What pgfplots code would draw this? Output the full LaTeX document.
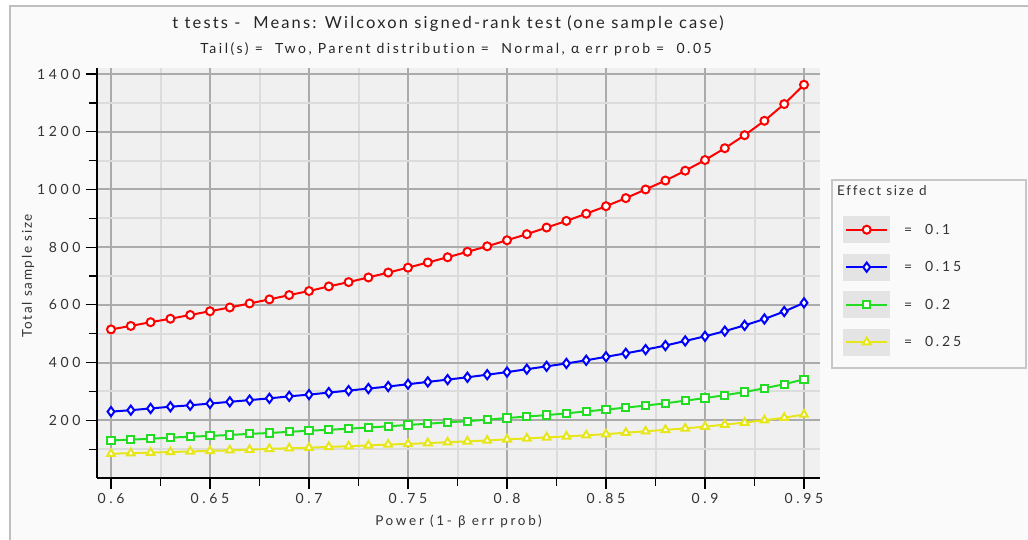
\documentclass[border=0pt]{standalone}
\usepackage{pgfplots}
\pgfplotsset{compat=1.18}
\usepackage{pgfplotstable}
\usepackage{fontspec}
\setmainfont{Lato}
\newfontfamily\lta[LetterSpace=13,Ligatures=NoCommon]{Lato}
\newfontfamily\ltb[LetterSpace=18,Ligatures=NoCommon]{Lato}
\newfontfamily\ltc[LetterSpace=20,Ligatures=NoCommon]{Lato}
\newfontfamily\ltd[LetterSpace=26,Ligatures=NoCommon]{Lato}
\newfontfamily\lte[LetterSpace=13,Ligatures=NoCommon]{Lato}
\definecolor{panelbg}{HTML}{FAFAFA}
\definecolor{plotbg}{HTML}{F0F0F0}
\definecolor{majgrid}{HTML}{ABABAB}
\definecolor{mingrid}{HTML}{DCDCDC}
\definecolor{txt}{HTML}{333333}
\definecolor{cred}{HTML}{FF0000}
\definecolor{cblue}{HTML}{0000FF}
\definecolor{cgreen}{HTML}{22DD22}
\definecolor{cyellow}{HTML}{E6E61A}
\definecolor{swatch}{HTML}{E4E4E4}

\pgfplotstableread{
p     n
0.60  515
0.61  527
0.62  540
0.63  552
0.64  565
0.65  578
0.66  591
0.67  605
0.68  619
0.69  634
0.70  648
0.71  664
0.72  679
0.73  695
0.74  712
0.75  729
0.76  747
0.77  765
0.78  784
0.79  803
0.80  824
0.81  845
0.82  868
0.83  891
0.84  916
0.85  942
0.86  970
0.87  1000
0.88  1031
0.89  1065
0.90  1102
0.91  1143
0.92  1188
0.93  1238
0.94  1296
0.95  1363
}\dA
\pgfplotstableread{
p     n
0.60  230
0.61  235
0.62  241
0.63  247
0.64  252
0.65  258
0.66  264
0.67  270
0.68  276
0.69  283
0.70  289
0.71  296
0.72  303
0.73  310
0.74  317
0.75  325
0.76  333
0.77  341
0.78  349
0.79  358
0.80  367
0.81  377
0.82  387
0.83  397
0.84  408
0.85  420
0.86  432
0.87  445
0.88  459
0.89  475
0.90  491
0.91  509
0.92  529
0.93  551
0.94  577
0.95  607
}\dB
\pgfplotstableread{
p     n
0.60  130
0.61  133
0.62  136
0.63  140
0.64  143
0.65  146
0.66  149
0.67  153
0.68  156
0.69  160
0.70  164
0.71  167
0.72  171
0.73  175
0.74  179
0.75  184
0.76  188
0.77  193
0.78  197
0.79  202
0.80  208
0.81  213
0.82  218
0.83  224
0.84  231
0.85  237
0.86  244
0.87  251
0.88  259
0.89  268
0.90  277
0.91  287
0.92  298
0.93  311
0.94  325
0.95  342
}\dC
\pgfplotstableread{
p     n
0.60  84
0.61  86
0.62  88
0.63  90
0.64  92
0.65  94
0.66  96
0.67  98
0.68  101
0.69  103
0.70  105
0.71  108
0.72  110
0.73  113
0.74  116
0.75  118
0.76  121
0.77  124
0.78  127
0.79  130
0.80  134
0.81  137
0.82  141
0.83  144
0.84  148
0.85  152
0.86  157
0.87  162
0.88  167
0.89  172
0.90  178
0.91  185
0.92  192
0.93  200
0.94  209
0.95  220
}\dD

\begin{document}
\begin{tikzpicture}[x=1pt,y=1pt]
\path[use as bounding box] (0,0) rectangle (1028,540);
\fill[white] (0,0) rectangle (1028,540);
\fill[panelbg] (10,0) rectangle (1028,534);
\draw[black!25, line width=1.5pt] (10,0) -- (10,534) -- (1028,534);

\node[text=black!85, font=\lta\fontsize{16.5}{19}\selectfont] at (448,516) {t tests -\ \ Means: Wilcoxon signed-rank test (one sample case)};
\node[text=black!85, font=\ltb\fontsize{14}{17}\selectfont] at (456,491) {Tail(s) = \ Two, Parent distribution = \ Normal, α err prob = \ 0.05};

\begin{axis}[
  at={(97pt,62pt)}, anchor=south west,
  width=723pt, height=410pt, scale only axis,
  xmin=0.59293, xmax=0.95808, ymin=0, ymax=1421,
  axis x line*=bottom, axis y line*=left,
  axis line style={-, black, line width=1.3pt},
  axis background/.style={fill=plotbg},
  xtick={0.6,0.65,0.7,0.75,0.8,0.85,0.9,0.95},
  xticklabels={0.6,0.65,0.7,0.75,0.8,0.85,0.9,0.95},
  minor xtick={0.625,0.675,0.725,0.775,0.825,0.875,0.925},
  ytick={200,400,600,800,1000,1200,1400},
  yticklabels={200,400,600,800,1000,1200,1400},
  minor ytick={100,300,500,700,900,1100,1300},
  grid=both,
  major grid style={draw=majgrid, line width=2pt},
  minor grid style={draw=mingrid, line width=2pt},
  tick align=outside,
  major tick length=11pt, minor tick length=8pt,
  tick style={black, line width=1.2pt},
  every tick label/.append style={text=txt, font=\ltd\fontsize{14}{16}\selectfont},
  xticklabel style={yshift=-1pt},
  yticklabel style={xshift=-2pt},
  xlabel={Power (1- β err prob)},
  ylabel={Total sample size},
  xlabel style={text=txt, font=\ltc\fontsize{13.5}{16}\selectfont,
    at={(axis description cs:0.5,-0.105)}, anchor=center},
  ylabel style={text=txt, font=\lte\fontsize{13.5}{16}\selectfont,
    at={(axis description cs:-0.0954,0.493)}, anchor=center},
  legend image code/.code={%
    \fill[swatch] (0pt,-12.5pt) rectangle (45pt,12.5pt);
    \draw[mark repeat=2,mark phase=2,#1] plot coordinates {(2pt,0pt) (22.5pt,0pt) (43pt,0pt)};
  },
  legend style={at={(axis description cs:1.0318,0.639)}, anchor=north west,
    draw=none, fill=none, inner sep=0pt, row sep=10.5pt, column sep=14pt,
    font=\ltc\fontsize{14}{16}\selectfont,
    nodes={inner sep=0pt}},
  legend cell align=left,
]
\addplot[draw=cred, line width=2pt, mark=*, mark size=4pt,
  mark options={draw=cred, fill=white, solid, line width=2pt}] table[x=p, y=n] {\dA};
\addlegendentry{\textcolor{txt}{= \ 0.1}}
\addplot[draw=cblue, line width=2pt, mark=diamond*, mark size=4.6pt,
  mark options={draw=cblue, fill=white, solid, line width=2pt}] table[x=p, y=n] {\dB};
\addlegendentry{\textcolor{txt}{= \ 0.15}}
\addplot[draw=cgreen, line width=2pt, mark=square*, mark size=3.6pt,
  mark options={draw=cgreen, fill=white, solid, line width=2pt}] table[x=p, y=n] {\dC};
\addlegendentry{\textcolor{txt}{= \ 0.2}}
\addplot[draw=cyellow, line width=2pt, mark=triangle*, mark size=4.4pt,
  mark options={draw=cyellow, fill=white, solid, line width=2pt}] table[x=p, y=n] {\dD};
\addlegendentry{\textcolor{txt}{= \ 0.25}}
\end{axis}

\draw[black!22, line width=1.2pt] (832,172) rectangle (1026,360);
\node[anchor=west, inner sep=0pt, text=txt, font=\lte\fontsize{13.5}{16}\selectfont] at (837,349) {Effect size d};
\end{tikzpicture}
\end{document}
